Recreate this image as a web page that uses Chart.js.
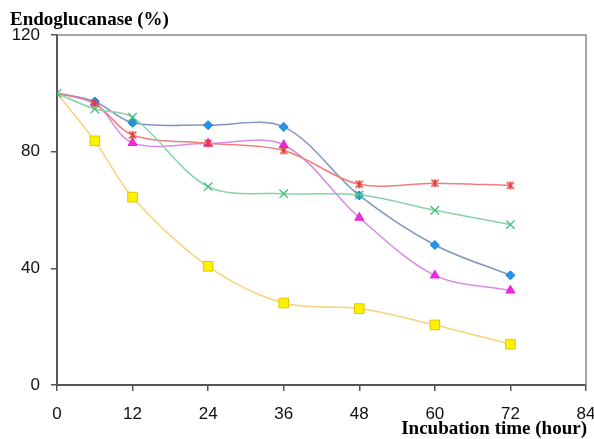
<!DOCTYPE html>
<html>
<head>
<meta charset="utf-8">
<script src="https://cdn.jsdelivr.net/npm/chart.js@4/dist/chart.umd.min.js"></script>
<style>
  html, body { margin: 0; padding: 0; background: #fff; }
  #wrap { width: 594px; height: 439px; position: relative; }
</style>
</head>
<body>
<div id="wrap"><canvas id="c" width="594" height="439"></canvas></div>
<script>
// Incubation times (hours) and residual endoglucanase activity (%)
const hours = [0, 6, 12, 24, 36, 48, 60, 72];
const xTicks = [0, 12, 24, 36, 48, 60, 72, 84];
const yTicks = [0, 40, 80, 120];

const seriesGreen   = [100, 94.6, 91.8, 68.0, 65.6, 65.2, 59.9, 55.0];
const seriesRed     = [100, 96.5, 85.7, 82.9, 80.4, 68.8, 69.2, 68.4];
const seriesMagenta = [100, 96.8, 83.0, 82.8, 82.3, 57.4, 37.6, 32.4];
const seriesBlue    = [100, 97.2, 89.9, 89.1, 88.5, 65.0, 48.0, 37.6];
const seriesYellow  = [100, 83.7, 64.4, 40.7, 28.1, 26.2, 20.6, 14.0];

const yTitle = 'Endoglucanase (%)';
const xTitle = 'Incubation time (hour)';

// Asterisk-like marker: an X with a vertical stroke
function starMarker(color, size) {
  const c = document.createElement('canvas');
  c.width = size; c.height = size;
  const g = c.getContext('2d');
  g.strokeStyle = color;
  g.lineWidth = 1.6;
  const m = 1.5, s = size - 1.5;
  g.beginPath();
  g.moveTo(m, m); g.lineTo(s, s);
  g.moveTo(s, m); g.lineTo(m, s);
  g.moveTo(size / 2, m - 0.5); g.lineTo(size / 2, s + 0.5);
  g.stroke();
  return c;
}

function pts(arr) { return hours.map((h, i) => ({ x: h, y: arr[i] })); }

// the shared starting point carries only the green marker
function radiusSkipFirst(r) {
  return ctx => (ctx.dataIndex === 0 ? 0 : r);
}

const common = { tension: 0.33, borderWidth: 1.5, fill: false, pointBorderWidth: 1 };

const datasets = [
  Object.assign({}, common, {
    label: 'green', data: pts(seriesGreen),
    borderColor: '#86d3a6', pointStyle: 'crossRot', pointRadius: 6,
    pointBorderColor: '#3fbf78', pointBackgroundColor: '#3fbf78', pointBorderWidth: 1.3
  }),
  Object.assign({}, common, {
    label: 'red', data: pts(seriesRed),
    borderColor: '#ee7f7c', pointStyle: starMarker('#e43a36', 10),
    pointRadius: radiusSkipFirst(5)
  }),
  Object.assign({}, common, {
    label: 'blue', data: pts(seriesBlue),
    borderColor: '#8094c2', pointStyle: 'rectRot', pointRadius: radiusSkipFirst(4.5),
    pointBorderColor: '#1a7fd0', pointBackgroundColor: '#2196e8'
  }),
  Object.assign({}, common, {
    label: 'magenta', data: pts(seriesMagenta),
    borderColor: '#d98ae6', pointStyle: 'triangle', pointRadius: radiusSkipFirst(5.2),
    pointBorderColor: '#ee1fd6', pointBackgroundColor: '#f02ade'
  }),
  Object.assign({}, common, {
    label: 'yellow', data: pts(seriesYellow),
    borderColor: '#f6d27a', pointStyle: 'rect', pointRadius: radiusSkipFirst(6.8),
    pointBorderColor: '#e6c400', pointBackgroundColor: '#fff200'
  })
];

// Frame on the top and right, plus the two axis captions
const framePlugin = {
  id: 'frame',
  beforeDatasetsDraw(chart) {
    const { ctx, chartArea: a } = chart;
    ctx.save();
    ctx.strokeStyle = '#8a8a8a';
    ctx.lineWidth = 1.5;
    ctx.beginPath();
    ctx.moveTo(a.left, a.top);
    ctx.lineTo(a.right, a.top);
    ctx.lineTo(a.right, a.bottom);
    ctx.stroke();
    ctx.restore();
  },
  afterDraw(chart) {
    const { ctx, chartArea: a } = chart;
    ctx.save();
    ctx.fillStyle = '#000';
    ctx.font = 'bold 19px "Liberation Serif", "Times New Roman", serif';
    ctx.textBaseline = 'alphabetic';
    ctx.textAlign = 'left';
    ctx.fillText(yTitle, 10, 25);
    ctx.textAlign = 'right';
    ctx.fillText(xTitle, a.right + 1, 434);
    ctx.restore();
  }
};

new Chart(document.getElementById('c'), {
  type: 'line',
  data: { datasets },
  plugins: [framePlugin],
  options: {
    responsive: false,
    animation: false,
    layout: { padding: { top: 35, right: 8, left: 0, bottom: 0 } },
    plugins: { legend: { display: false }, tooltip: { enabled: false } },
    scales: {
      x: {
        type: 'linear', min: 0, max: 84,
        afterBuildTicks(s) { s.ticks = xTicks.map(v => ({ value: v })); },
        afterFit(s) { s.height = 54; s.paddingLeft = 0; s.paddingRight = 0; },
        ticks: {
          color: '#111', padding: 13,
          font: { family: '"Liberation Sans", Arial, sans-serif', size: 17 }
        },
        grid: { drawOnChartArea: false, drawTicks: true, tickLength: 6, color: '#555', lineWidth: 1.5 },
        border: { color: '#555', width: 2 }
      },
      y: {
        type: 'linear', min: 0, max: 120,
        afterBuildTicks(s) { s.ticks = yTicks.map(v => ({ value: v })); },
        afterFit(s) { s.width = 57; s.paddingTop = 0; s.paddingBottom = 0; },
        ticks: {
          color: '#111', padding: 11,
          font: { family: '"Liberation Sans", Arial, sans-serif', size: 17 }
        },
        grid: { drawOnChartArea: false, drawTicks: true, tickLength: 6, color: '#555', lineWidth: 1.5 },
        border: { color: '#555', width: 2 }
      }
    }
  }
});
</script>
</body>
</html>
